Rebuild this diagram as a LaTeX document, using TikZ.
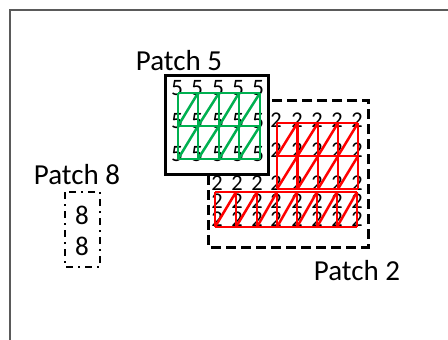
\documentclass[tikz,border=0pt]{standalone}
\usepackage{fontspec}
\setmainfont{Carlito}
\definecolor{framegray}{HTML}{5A5A5A}
\definecolor{meshgreen}{HTML}{00B050}
\definecolor{meshred}{HTML}{FF0000}
\tikzset{
  frameline/.style={draw=framegray,line width=2pt},
  patchlabel/.style={inner sep=0pt,font=\fontsize{29}{30}\selectfont},
  numfive/.style={inner sep=0pt,font=\fontsize{23.5}{24}\selectfont},
  numtwo/.style={inner sep=0pt,font=\fontsize{22.5}{24}\selectfont},
  numeight/.style={inner sep=0pt,font=\fontsize{27}{28}\selectfont},
  boxfive/.style={draw=black,line width=3pt,fill=white},
  boxtwo/.style={draw=black,line width=3pt,dash pattern=on 10pt off 5pt},
  boxeight/.style={draw=black,line width=2.5pt,dash pattern=on 7pt off 5pt on 2pt off 5pt},
  greenmesh/.style={draw=meshgreen,line width=2.5pt},
  redmesh/.style={draw=meshred,line width=2.5pt},
}
\begin{document}
\begin{tikzpicture}[x=1pt,y=-1pt]
\useasboundingbox (0,0) rectangle (448,340);
% outer frame
\coordinate (fb) at (10,341);
\coordinate (fc) at (10,10);
\coordinate (fr) at (449,10);
\draw[frameline] (fb) -- (fc) -- (fr);

% Patch 2 dashed box
\draw[boxtwo] (208,100) rectangle (368,247);
% numbers 2
\foreach \x [count=\i] in {276,297,317,337,357}{
  \foreach \y [count=\j] in {120,150}{
    \node[numtwo] (tu\i\j) at (\x,\y) {2};
  }
}
\foreach \x [count=\i] in {217,237,257,276,297,317,337,357}{
  \foreach \y [count=\j] in {183,201,219}{
    \node[numtwo] (tl\i\j) at (\x,\y) {2};
  }
}
% red upper mesh
\foreach \x in {277,297.5,318,338,358}{\draw[redmesh] (\x,123) -- (\x,189);}
\foreach \y in {123,156,189}{\draw[redmesh] (277,\y) -- (358,\y);}
\foreach \xa/\xb in {277/297.5,297.5/318,318/338,338/358}{
  \foreach \ya/\yb in {123/156,156/189}{
    \draw[redmesh] (\xa,\yb) -- (\xb,\ya);
  }
}
% red lower mesh
\foreach \x in {215,236,257,277,297,317,337,357}{\draw[redmesh] (\x,192) -- (\x,227);}
\foreach \y in {192,227}{\draw[redmesh] (215,\y) -- (357,\y);}
\foreach \xa/\xb in {215/236,236/257,257/277,277/297,297/317,317/337,337/357}{
  \draw[redmesh] (\xa,227) -- (\xb,192);
}

% Patch 5 box
\draw[boxfive] (165,75) rectangle (268,174);
\foreach \x [count=\i] in {177,197,218,238,258}{
  \foreach \y [count=\j] in {88,121,154}{
    \node[numfive] (f\i\j) at (\x,\y) {5};
  }
}
% green mesh
\foreach \x in {178,198,219,239,260}{\draw[greenmesh] (\x,93) -- (\x,159);}
\foreach \y in {93,126,159}{\draw[greenmesh] (178,\y) -- (260,\y);}
\foreach \xa/\xb in {178/198,198/219,219/239,239/260}{
  \foreach \ya/\yb in {93/126,126/159}{
    \draw[greenmesh] (\xa,\yb) -- (\xb,\ya);
  }
}

% Patch 8 box
\draw[boxeight] (65,192) rectangle (100,267);
\node[numeight] (e1) at (82,215) {8};
\node[numeight] (e2) at (82,246) {8};

% labels
\node[patchlabel] (l5) at (179,61) {Patch 5};
\node[patchlabel] (l8) at (77,175) {Patch 8};
\node[patchlabel] (l2) at (357,271) {Patch 2};
\end{tikzpicture}
\end{document}
